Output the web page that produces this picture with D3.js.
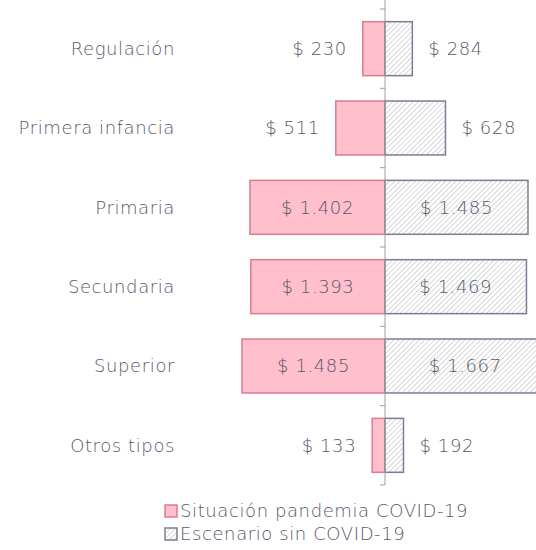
<!DOCTYPE html>
<html>
<head>
<meta charset="utf-8">
<script src="https://cdn.jsdelivr.net/npm/d3@7"></script>
<style>
  body { margin: 0; background: #fff; }
  text { font-family: "Century Gothic", "DejaVu Sans", sans-serif; fill: #58586b; font-weight: 300; letter-spacing: 0.6px; }
</style>
</head>
<body>
<div id="chart"></div>
<script>
// data
const categories = ["Regulación", "Primera infancia", "Primaria", "Secundaria", "Superior", "Otros tipos"];
const pandemia = [230, 511, 1402, 1393, 1485, 133];
const sinCovid = [284, 628, 1485, 1469, 1667, 192];
const seriesNames = ["Situación pandemia COVID-19", "Escenario sin COVID-19"];

const W = 536, H = 550;
const centerX = 385, plotTop = 9, plotBottom = 485;
const fontSize = 18;

const svg = d3.select("#chart")
    .append("svg")
    .attr("width", W)
    .attr("height", H);

// hatch pattern for the no-covid scenario
const defs = svg.append("defs");
const pat = defs.append("pattern")
    .attr("id", "hatch")
    .attr("patternUnits", "userSpaceOnUse")
    .attr("width", 3.6)
    .attr("height", 3.6)
    .attr("patternTransform", "rotate(45)");
pat.append("rect").attr("width", 3.6).attr("height", 3.6).attr("fill", "#fff");
pat.append("line")
    .attr("x1", 0).attr("y1", 0).attr("x2", 0).attr("y2", 3.6)
    .attr("stroke", "#b0b0b6").attr("stroke-width", 1);

const y = d3.scaleBand()
    .domain(categories)
    .range([plotTop, plotBottom])
    .paddingInner(0.32)
    .paddingOuter(0.16);

// one scale per side, same px per unit
const xr = d3.scaleLinear().domain([0, 1000]).range([centerX, centerX + 96.3]);
const xl = d3.scaleLinear().domain([0, 1000]).range([centerX, centerX - 96.3]);

const fmt = d3.formatLocale({ decimal: ",", thousands: ".", grouping: [3], currency: ["$ ", ""] }).format("$,.0f");

const rows = categories.map((c, i) => ({ cat: c, a: pandemia[i], b: sinCovid[i] }));

// left bars
svg.selectAll(".barL")
    .data(rows)
    .join("rect")
    .attr("x", d => xl(d.a))
    .attr("y", d => y(d.cat))
    .attr("width", d => centerX - xl(d.a))
    .attr("height", y.bandwidth())
    .attr("fill", "#ffbfcc")
    .attr("stroke", "#e27890")
    .attr("stroke-width", 1.5);

// right bars
svg.selectAll(".barR")
    .data(rows)
    .join("rect")
    .attr("x", centerX)
    .attr("y", d => y(d.cat))
    .attr("width", d => xr(d.b) - centerX)
    .attr("height", y.bandwidth())
    .attr("fill", "url(#hatch)")
    .attr("stroke", "#7c7c98")
    .attr("stroke-width", 1.5);

// centre axis with tick marks between categories
const axis = svg.append("g");
axis.append("line")
    .attr("x1", centerX).attr("x2", centerX)
    .attr("y1", 0).attr("y2", plotBottom)
    .attr("stroke", "#a0a0a0").attr("stroke-width", 1);
const bounds = d3.range(categories.length + 1).map(i => plotTop + i * (plotBottom - plotTop) / categories.length);
axis.selectAll(".tk")
    .data(bounds)
    .join("line")
    .attr("x1", centerX - 5).attr("x2", centerX)
    .attr("y1", d => d).attr("y2", d => d)
    .attr("stroke", "#a0a0a0");

// category labels
svg.selectAll(".cat")
    .data(categories)
    .join("text")
    .attr("x", 175)
    .attr("y", d => y(d) + y.bandwidth() / 2)
    .attr("dy", "0.35em")
    .attr("text-anchor", "end")
    .attr("font-size", fontSize)
    .text(d => d);

// value labels: inside if the bar is wide, outside otherwise
const wide = 800;
svg.selectAll(".valL")
    .data(rows)
    .join("text")
    .attr("x", d => d.a > wide ? (xl(d.a) + centerX) / 2 : xl(d.a) - 16)
    .attr("y", d => y(d.cat) + y.bandwidth() / 2)
    .attr("dy", "0.35em")
    .attr("text-anchor", d => d.a > wide ? "middle" : "end")
    .attr("font-size", fontSize)
    .text(d => fmt(d.a));

svg.selectAll(".valR")
    .data(rows)
    .join("text")
    .attr("x", d => d.b > wide ? (xr(d.b) + centerX) / 2 : xr(d.b) + 16)
    .attr("y", d => y(d.cat) + y.bandwidth() / 2)
    .attr("dy", "0.35em")
    .attr("text-anchor", d => d.b > wide ? "middle" : "start")
    .attr("font-size", fontSize)
    .text(d => fmt(d.b));

// legend
const legend = svg.append("g").attr("transform", "translate(165,505)");
const leg = legend.selectAll("g")
    .data(seriesNames)
    .join("g")
    .attr("transform", (d, i) => `translate(0,${i * 23})`);
leg.append("rect")
    .attr("width", 12).attr("height", 12)
    .attr("fill", (d, i) => i === 0 ? "#ffbfcc" : "url(#hatch)")
    .attr("stroke", (d, i) => i === 0 ? "#e27890" : "#7c7c98")
    .attr("stroke-width", 1.5);
leg.append("text")
    .attr("x", 15)
    .attr("y", 6)
    .attr("dy", "0.35em")
    .attr("font-size", fontSize)
    .text(d => d);
</script>
</body>
</html>
